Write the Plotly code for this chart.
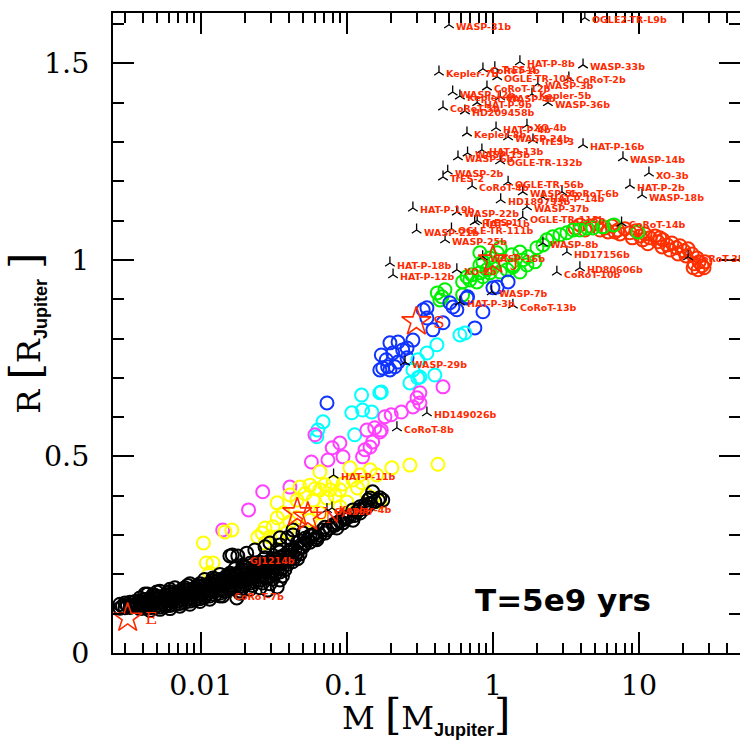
import numpy as np
import plotly.graph_objects as go

# ---------------- data ----------------
red_pts = [(4.62,1.086),(5.15,1.091),(5.85,1.081),(6.53,1.086),(7.18,1.076),(8.02,1.079),(8.67,1.069),
           (9.53,1.074),(10.2,1.061),(11.0,1.066),(11.9,1.056),(12.9,1.061),(13.5,1.046),(14.6,1.051),
           (15.6,1.038),(16.8,1.043),(18.0,1.031),(19.1,1.036),(20.3,1.023),(21.7,1.028),(23.1,1.015),
           (24.9,1.005),(25.8,0.995),(27.0,0.985),(25.4,0.975),(27.9,0.980),(23.9,0.990),(21.0,1.010),
           (18.5,1.015),(16.3,1.025),(14.4,1.033),(11.5,1.041),(10.6,1.051),(9.0,1.056),(7.41,1.066),
           (6.14,1.071),(5.41,1.076),(4.27,1.076),(3.94,1.089),(3.65,1.081),(28.3,0.995),(23.5,0.980),
           (13.9,1.056),(6.85,1.071)]

green_pts = [(0.416,0.916),(0.447,0.906),(0.469,0.924),(0.433,0.898),(0.620,0.911),(0.620,0.944),
             (0.664,0.957),(0.695,0.949),(0.717,0.962),(0.777,0.944),(0.814,0.967),(0.854,0.957),
             (0.910,0.975),(0.953,0.967),(1.0,0.980),(1.12,0.969),(1.25,0.975),(1.37,0.982),(1.53,0.969),
             (1.71,0.987),(1.94,0.995),(1.60,1.000),(0.814,0.987),(1.0,0.992),(0.854,0.995),(0.953,1.005),
             (0.814,1.018),(1.12,1.031),(1.07,1.018),(1.35,1.013),(1.53,1.020),(1.74,1.008),(2.0,1.031),
             (2.2,1.038),(2.34,1.051),(2.57,1.059),(2.88,1.064),(3.21,1.069),(3.54,1.076),(3.94,1.076),
             (4.41,1.081),(4.84,1.081),(5.67,1.084),(6.74,1.089),(9.84,1.071),(1.37,0.987)]

blue_pts = [(0.073,0.636),(0.168,0.720),(0.176,0.725),(0.190,0.728),(0.197,0.720),(0.213,0.728),
            (0.224,0.740),(0.172,0.758),(0.186,0.746),(0.197,0.789),(0.206,0.763),(0.224,0.791),
            (0.241,0.771),(0.258,0.751),(0.283,0.796),(0.258,0.776),(0.333,0.873),(0.353,0.852),
            (0.353,0.878),(0.388,0.822),(0.455,0.840),(0.507,0.891),(0.532,0.880),(0.566,0.873),
            (0.664,0.903),(0.854,0.868),(0.752,0.827),(1.0,0.929),(1.07,0.931),(1.27,0.944),(0.67,0.906)]

cyan_pts = [(0.0622,0.550),(0.0632,0.567),(0.0686,0.588),(0.108,0.611),(0.113,0.555),(0.126,0.656),
            (0.128,0.618),(0.148,0.613),(0.168,0.662),(0.172,0.664),(0.270,0.687),(0.306,0.700),
            (0.283,0.720),(0.316,0.702),(0.306,0.746),(0.353,0.763),(0.413,0.784),(0.400,0.707),
            (0.594,0.809),(0.643,0.814)]

magenta_pts = [(0.0141,0.313),(0.0212,0.364),(0.0265,0.410),(0.0407,0.422),(0.0571,0.486),(0.0604,0.555),
               (0.0741,0.491),(0.0793,0.522),(0.0895,0.534),(0.094,0.499),(0.128,0.499),(0.133,0.517),
               (0.144,0.524),(0.150,0.537),(0.137,0.567),(0.155,0.573),(0.172,0.567),(0.182,0.601),
               (0.201,0.606),(0.236,0.613),(0.283,0.626),(0.316,0.636),(0.302,0.649),(0.316,0.662),
               (0.455,0.677),(0.168,0.562)]

yellow_pts = [(0.0104,0.280),(0.0115,0.204),(0.0121,0.229),(0.0109,0.229),(0.0146,0.308),(0.0163,0.313),
              (0.0245,0.295),(0.0263,0.305),(0.0275,0.318),(0.0297,0.295),(0.0312,0.321),(0.0333,0.344),
              (0.0333,0.382),(0.0366,0.356),(0.0391,0.308),(0.0407,0.333),(0.0407,0.402),(0.0455,0.344),
              (0.0455,0.389),(0.0477,0.422),(0.0558,0.338),(0.0558,0.427),(0.0587,0.389),(0.0653,0.461),
              (0.0653,0.415),(0.0653,0.356),(0.0729,0.394),(0.0765,0.415),(0.0804,0.433),(0.0895,0.415),
              (0.0895,0.372),(0.100,0.384),(0.105,0.471),(0.110,0.440),(0.123,0.453),(0.127,0.433),
              (0.137,0.402),(0.144,0.466),(0.151,0.394),(0.160,0.453),(0.168,0.384),(0.203,0.471),
              (0.270,0.478),(0.0275,0.280),(0.0333,0.295),(0.42,0.48),(0.0516,0.405),(0.0604,0.418),
              (0.0707,0.428),(0.083,0.400),(0.094,0.430),(0.118,0.420)]

# dense low-mass band (read column by column) + edges + mid band
black_pts = [(0.00279,0.124),(0.00279,0.114),(0.00302,0.127),(0.00302,0.115),(0.00327,0.129),(0.00327,0.116),
             (0.00354,0.131),(0.00354,0.118),(0.00382,0.133),(0.00382,0.121),(0.00382,0.113),
             (0.00414,0.136),(0.00414,0.124),(0.00414,0.114),(0.00448,0.138),(0.00448,0.126),(0.00448,0.115),
             (0.00484,0.140),(0.00484,0.128),(0.00484,0.116),(0.00524,0.143),(0.00524,0.130),(0.00524,0.117),
             (0.00567,0.146),(0.00567,0.133),(0.00567,0.119),(0.00614,0.149),(0.00614,0.136),(0.00614,0.121),
             (0.00664,0.152),(0.00664,0.139),(0.00664,0.124),(0.00718,0.156),(0.00718,0.142),(0.00718,0.126),
             (0.00777,0.159),(0.00777,0.145),(0.00777,0.129),(0.00841,0.162),(0.00841,0.148),(0.00841,0.132),
             (0.00910,0.165),(0.00910,0.151),(0.00910,0.135),(0.00984,0.169),(0.00984,0.154),(0.00984,0.138),
             (0.0106,0.173),(0.0106,0.158),(0.0106,0.142),(0.0115,0.177),(0.0115,0.162),(0.0115,0.145),
             (0.0125,0.181),(0.0125,0.166),(0.0125,0.148),(0.0135,0.187),(0.0135,0.170),(0.0135,0.152),
             (0.0146,0.192),(0.0146,0.175),(0.0146,0.157),(0.0158,0.196),(0.0158,0.180),(0.0158,0.162),
             (0.0171,0.201),(0.0171,0.184),(0.0171,0.165),(0.0185,0.206),(0.0185,0.188),(0.0185,0.169),
             (0.0185,0.158),(0.0200,0.210),(0.0200,0.192),(0.0200,0.174),(0.0217,0.215),(0.0217,0.197),
             (0.0217,0.178),(0.0217,0.162),(0.0234,0.219),(0.0234,0.201),(0.0234,0.182),(0.0254,0.224),
             (0.0254,0.206),(0.0254,0.186),(0.0254,0.166),(0.0275,0.229),(0.0275,0.211),(0.0275,0.191),
             (0.0297,0.234),(0.0297,0.216),(0.0297,0.196),(0.0297,0.176),(0.0322,0.239),(0.0322,0.221),
             (0.0322,0.201),(0.0348,0.244),(0.0348,0.226),(0.0348,0.206),(0.0348,0.186),(0.0376,0.250),
             (0.0376,0.232),(0.0376,0.212),(0.0407,0.256),(0.0407,0.238),(0.0441,0.262),(0.0441,0.245),
             (0.0477,0.268),(0.0477,0.252),
             # offset columns
             (0.0029,0.119),(0.00314,0.121),(0.0034,0.123),(0.00368,0.126),(0.00368,0.117),
             (0.00398,0.129),(0.00398,0.119),(0.0043,0.131),(0.0043,0.120),(0.00466,0.133),(0.00466,0.121),
             (0.00504,0.135),(0.00504,0.122),(0.00545,0.137),(0.00545,0.124),(0.0059,0.140),(0.0059,0.126),
             (0.00639,0.144),(0.00639,0.130),(0.0069,0.147),(0.0069,0.132),(0.00747,0.150),(0.00747,0.135),
             (0.00808,0.153),(0.00808,0.138),(0.00875,0.157),(0.00875,0.141),(0.00947,0.160),(0.00947,0.144),
             (0.0102,0.164),(0.0102,0.148),(0.0110,0.168),(0.0110,0.151),(0.0120,0.172),(0.0120,0.155),
             (0.0130,0.177),(0.0130,0.159),(0.0140,0.181),(0.0140,0.163),(0.0152,0.186),(0.0152,0.168),
             (0.0164,0.190),(0.0164,0.172),(0.0178,0.195),(0.0178,0.176),(0.0192,0.200),(0.0192,0.181),
             (0.0192,0.165),(0.0208,0.204),(0.0208,0.185),(0.0225,0.209),(0.0225,0.190),(0.0225,0.172),
             (0.0244,0.213),(0.0244,0.194),(0.0264,0.218),(0.0264,0.198),(0.0264,0.178),(0.0286,0.223),
             (0.0286,0.203),(0.0309,0.228),(0.0309,0.208),(0.0309,0.188),(0.0335,0.233),(0.0335,0.213),
             (0.0362,0.238),(0.0362,0.218),(0.0362,0.196),(0.0391,0.244),(0.0391,0.225),(0.0424,0.250),
             (0.0424,0.232),(0.0459,0.256),(0.0459,0.240),
             # upper and lower edges
             (0.00382,0.140),(0.00484,0.147),(0.00614,0.156),(0.00777,0.166),(0.00984,0.176),(0.0125,0.188),
             (0.0158,0.203),(0.0200,0.217),(0.0254,0.231),(0.00524,0.111),(0.00718,0.119),(0.00984,0.131),
             (0.0135,0.145),(0.0185,0.152),
             (0.00414,0.150),(0.00524,0.157),(0.00664,0.166),(0.00841,0.176),(0.0106,0.187),(0.0135,0.200),
             (0.0171,0.214),(0.0217,0.228),(0.0275,0.242),(0.0348,0.257),
             (0.00466,0.146),(0.0059,0.153),(0.00747,0.163),(0.00947,0.172),(0.0120,0.184),(0.0152,0.198),
             (0.0192,0.212),(0.0244,0.226),(0.0309,0.240),
             (0.00448,0.108),(0.00614,0.113),(0.00841,0.124),(0.0115,0.137),
             (0.00431,0.150),(0.00499,0.155),(0.00614,0.162),(0.00813,0.172),(0.0121,0.191),(0.0158,0.247),
             (0.0179,0.247),(0.0194,0.224),(0.0141,0.145),(0.0176,0.140),(0.0286,0.160),(0.0333,0.168),
             # mid band
             (0.150,0.410),(0.164,0.389),(0.140,0.389),(0.144,0.394),(0.137,0.372),(0.123,0.372),
             (0.123,0.356),(0.110,0.364),(0.110,0.338),(0.094,0.346),(0.094,0.331),(0.0853,0.331),
             (0.0853,0.318),(0.0729,0.313),(0.0622,0.295),(0.0622,0.288),(0.0538,0.288),(0.0500,0.305),
             (0.0558,0.282),(0.0500,0.270),(0.0455,0.280),(0.0427,0.313),(0.0427,0.300),(0.0407,0.262),
             (0.0391,0.293),(0.0348,0.275),(0.0348,0.293),(0.0333,0.262),(0.0297,0.280),(0.0275,0.270),
             (0.0234,0.262),(0.0206,0.254),(0.0164,0.249),(0.176,0.389),(0.0680,0.313),(0.0804,0.326),
             (0.100,0.344),(0.117,0.359),(0.133,0.377),(0.058,0.300),
             (0.0477,0.285),(0.0516,0.292),(0.0558,0.298),(0.0604,0.303),(0.0653,0.300),(0.0707,0.320),
             (0.0765,0.318),(0.0828,0.325),(0.0895,0.335),(0.0969,0.340),(0.105,0.348),(0.113,0.350),
             (0.123,0.365),(0.133,0.368),(0.144,0.380),(0.155,0.385),(0.168,0.395),(0.0516,0.278),
             (0.0604,0.290),(0.0707,0.305)]

planet_names = ["WASP-31b","OGLE2-TR-L9b","HAT-P-8b","WASP-33b","Kepler-7b","CoRoT-1b","TrES-4",
                "OGLE-TR-10b","CoRoT-2b","WASP-3b","CoRoT-12b","WASP-12b","Kepler-6b","WASP-4b",
                "Kepler-5b","HAT-P-9b","WASP-36b","CoRoT-5b","HD209458b","XO-4b","Kepler-8b","HAT-P-4b",
                "WASP-24b","TrES-3","HAT-P-16b","HAT-P-13b","WASP-15b","WASP-6b","OGLE-TR-132b",
                "WASP-14b","WASP-2b","TrES-2","XO-3b","OGLE-TR-56b","CoRoT-4b","HAT-P-2b","WASP-18b",
                "WASP-5b","CoRoT-6b","HD189733b","HAT-P-14b","WASP-37b","HAT-P-19b","WASP-22b","TrES-1",
                "OGLE-TR-113b","WASP-21b","OGLE-TR-111b","CoRoT-14b","WASP-25b","HAT-P-1b","WASP-8b",
                "HD17156b","WASP-16b","HD80606b","CoRoT-10b","XO-2b","WASP-7b","CoRoT-3b","HAT-P-18b",
                "HAT-P-12b","HAT-P-3b","CoRoT-13b","WASP-29b","HD149026b","CoRoT-8b","HAT-P-11b",
                "GJ436b","Kepler-4b","GJ1214b","CoRoT-7b"]
planet_mass = [0.50,4.26,1.53,4.14,0.427,0.854,1.03,1.07,3.31,2.03,0.91,0.53,0.594,1.12,1.85,0.78,2.38,
               0.455,0.643,1.71,0.664,1.05,1.27,1.88,4.14,0.84,0.67,0.576,1.12,7.77,0.49,0.455,11.7,1.27,
               0.72,8.67,10.5,1.60,2.97,1.13,2.2,1.71,0.283,0.566,0.78,1.60,0.30,0.52,7.6,0.47,0.75,2.2,
               3.21,0.85,3.94,2.74,0.566,0.98,21.7,0.197,0.207,0.594,1.37,0.25,0.353,0.22,0.081,0.073,
               0.079,0.0195,0.0151]
planet_radius = [1.598,1.616,1.504,1.496,1.478,1.486,1.489,1.466,1.463,1.448,1.44,1.427,1.417,1.415,1.422,
                 1.40,1.40,1.389,1.379,1.343,1.323,1.336,1.313,1.305,1.293,1.28,1.272,1.262,1.252,1.26,
                 1.226,1.211,1.221,1.198,1.188,1.19,1.165,1.173,1.173,1.153,1.16,1.135,1.132,1.122,1.10,
                 1.109,1.076,1.079,1.094,1.051,1.097,1.043,1.02,1.008,0.98,0.969,0.975,0.919,1.008,0.992,
                 0.962,0.893,0.885,0.74,0.611,0.573,0.453,0.365,0.369,0.24,0.150]

solar_names = ["E", "U", "N", "S", "J"]
solar_mass = [0.00315, 0.0457, 0.054, 0.299, 1.0]
solar_radius = [0.089, 0.357, 0.346, 0.843, 1.0]

x_tick_vals = [0.01, 0.1, 1, 10]
x_tick_text = ["0.01", "0.1", "1", "10"]
annot_text = "T=5e9 yrs"

# ---------------- figure ----------------
RED = "#ff2a00"
fig = go.Figure()

series = [(red_pts, "#ff3000"), (green_pts, "#00f000"), (blue_pts, "#1034ff"),
          (cyan_pts, "#00ffff"), (magenta_pts, "#ff40ff"), (yellow_pts, "#ffff00"),
          (black_pts, "#000000")]
for pts, col in series:
    m, r = zip(*pts)
    fig.add_trace(go.Scatter(x=list(m), y=list(r), mode="markers", hoverinfo="skip",
                             marker=dict(symbol="circle-open", size=13, color=col,
                                         line=dict(color=col, width=2))))

fig.add_trace(go.Scatter(x=planet_mass, y=planet_radius, mode="markers", hoverinfo="skip",
                         marker=dict(symbol="y-up", size=8, color="black",
                                     line=dict(color="black", width=1.3))))
fig.add_trace(go.Scatter(x=solar_mass, y=solar_radius, mode="markers", hoverinfo="skip",
                         marker=dict(symbol="star-open", size=22, color=RED,
                                     line=dict(color=RED, width=1.6))))
fig.add_trace(go.Scatter(x=[0.1], y=[0.5], yaxis="y2", mode="markers", hoverinfo="skip",
                         marker=dict(opacity=0), showlegend=False))

ann = []
for n, m, r in zip(planet_names, planet_mass, planet_radius):
    ann.append(dict(x=np.log10(m), y=r, xref="x", yref="y", text="<b>%s</b>" % n, showarrow=False,
                    xanchor="left", yanchor="middle", xshift=5, yshift=-2,
                    font=dict(family="DejaVu Sans", size=9.5, color=RED)))
for n, m, r in zip(solar_names, solar_mass, solar_radius):
    ann.append(dict(x=np.log10(m), y=r, xref="x", yref="y", text=n, showarrow=False,
                    xanchor="left", yanchor="middle", xshift=15, yshift=0,
                    font=dict(family="DejaVu Serif", size=17, color=RED)))
ann.append(dict(x=0.718, y=0.083, xref="paper", yref="paper", text="<b>%s</b>" % annot_text,
                showarrow=False, xanchor="center", yanchor="middle",
                font=dict(family="DejaVu Sans", size=31, color="black")))
sub = "<sub><b><span style='font-family:Liberation Sans;font-size:18px'>Jupiter</span></b></sub>"
br_l = "<span style='font-size:42px'>[</span>"
br_r = "<span style='font-size:42px'>]</span>"
ann.append(dict(x=0.5, y=-0.097, xref="paper", yref="paper", showarrow=False,
                text="M " + br_l + "M" + sub + br_r,
                xanchor="center", yanchor="middle",
                font=dict(family="DejaVu Serif", size=32, color="black")))
ann.append(dict(x=-0.139, y=0.5, xref="paper", yref="paper", showarrow=False, textangle=-90,
                text="R " + br_l + "R" + sub + " " + br_r,
                xanchor="center", yanchor="middle",
                font=dict(family="DejaVu Serif", size=32, color="black")))

tickfont = dict(family="DejaVu Serif", size=28.5, color="black")
fig.update_layout(
    width=740, height=743, margin=dict(l=113, r=0, t=13, b=90, autoexpand=False),
    paper_bgcolor="white", plot_bgcolor="white", showlegend=False,
    annotations=ann,
    xaxis=dict(type="log", range=[np.log10(0.0025), np.log10(49.2)], automargin=False,
               tickvals=x_tick_vals, ticktext=x_tick_text,
               ticks="inside", ticklen=21, tickwidth=1.5, tickcolor="black",
               showline=True, linecolor="black", linewidth=2, mirror="ticks",
               showgrid=False, zeroline=False, tickfont=tickfont, ticklabelstandoff=6,
               minor=dict(dtick="D1", ticks="inside", ticklen=10, tickwidth=1.5,
                          tickcolor="black", showgrid=False)),
    yaxis=dict(range=[0, 1.628], dtick=0.5, tick0=0, automargin=False,
               ticks="inside", ticklen=21, tickwidth=1.5, tickcolor="black",
               showline=True, linecolor="black", linewidth=2, mirror=False,
               showgrid=False, zeroline=False, tickfont=tickfont, ticklabelstandoff=16,
               minor=dict(dtick=0.1, ticks="inside", ticklen=11, tickwidth=1.5,
                          tickcolor="black", showgrid=False)),
    yaxis2=dict(range=[0, 1.628], overlaying="y", side="right", dtick=0.5, tick0=0, automargin=False,
                ticks="inside", ticklen=21, tickwidth=1.5, tickcolor="black",
                showline=False, showgrid=False, zeroline=False, showticklabels=False,
                minor=dict(dtick=0.1, ticks="inside", ticklen=11, tickwidth=1.5,
                           tickcolor="black", showgrid=False)),
)
fig.write_html("out.html")
